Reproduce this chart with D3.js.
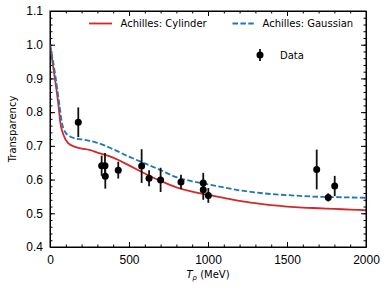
<!DOCTYPE html>
<html>
<head>
<meta charset="utf-8">
<script src="https://cdn.jsdelivr.net/npm/d3@7"></script>
<style>
  body { margin: 0; background: #fff; }
  svg { font-family: "DejaVu Sans", sans-serif; }
  .axis path, .axis line { stroke: #000; }
  .axis text { font-size: 12px; fill: #000; }
</style>
</head>
<body>
<div id="chart"></div>
<script>
// Data
const dataT = [179, 327, 348, 350, 432, 580, 627, 700, 829, 970, 970, 1002, 1688, 1761, 1802];
const dataY = [0.770, 0.641, 0.641, 0.610, 0.628, 0.640, 0.604, 0.599, 0.593, 0.590, 0.570, 0.553, 0.630, 0.547, 0.581];
const dataErr = [0.044, 0.030, 0.038, 0.037, 0.025, 0.050, 0.024, 0.036, 0.021, 0.030, 0.030, 0.022, 0.059, 0.012, 0.030];

const cylT = [0, 20, 40, 55, 65, 85, 115, 160, 200, 250, 300, 400, 500, 600, 700, 800, 900, 1000, 1100, 1200, 1300, 1400, 1500, 1600, 1700, 1800, 1900, 2000];
const cylY = [1.0, 0.935, 0.87, 0.815, 0.77, 0.733, 0.708, 0.697, 0.692, 0.688, 0.680, 0.665, 0.642, 0.618, 0.596, 0.577, 0.564, 0.555, 0.546, 0.537, 0.530, 0.524, 0.520, 0.517, 0.515, 0.513, 0.511, 0.509];

const gauT = [0, 30, 60, 75, 95, 130, 160, 200, 250, 300, 400, 500, 600, 700, 800, 900, 1000, 1100, 1200, 1300, 1400, 1500, 1600, 1700, 1800, 1900, 2000];
const gauY = [1.0, 0.92, 0.82, 0.77, 0.742, 0.727, 0.722, 0.719, 0.715, 0.709, 0.690, 0.668, 0.648, 0.628, 0.607, 0.595, 0.586, 0.577, 0.568, 0.562, 0.557, 0.554, 0.551, 0.549, 0.548, 0.547, 0.546];

const xTicks = [0, 500, 1000, 1500, 2000];
const yTicks = [0.4, 0.5, 0.6, 0.7, 0.8, 0.9, 1.0, 1.1];

const W = 390, H = 291;
const MARGIN = { top: 11, right: 24, bottom: 44, left: 50 };
const RED = '#d62728', BLUE = '#1f77b4';
const LW = 1.8;

const svg = d3.select('#chart').append('svg')
  .attr('width', W).attr('height', H);

const x = d3.scaleLinear().domain([0, 2000]).range([MARGIN.left, W - MARGIN.right]);
const y = d3.scaleLinear().domain([0.4, 1.1]).range([H - MARGIN.bottom, MARGIN.top]);

const xMinor = d3.range(0, 2001, 100);
const yMinor = d3.range(0.4, 1.1001, 0.02);

// minor ticks (inward, all four sides)
function minor(axisGen, ty, tx) {
  svg.append('g').attr('class', 'axis')
    .attr('transform', `translate(${tx},${ty})`)
    .call(axisGen)
    .call(g => g.select('.domain').remove())
    .call(g => g.selectAll('text').remove());
}
minor(d3.axisBottom(x).tickValues(xMinor).tickSizeInner(-2.5).tickSizeOuter(0), y(0.4), 0);
minor(d3.axisTop(x).tickValues(xMinor).tickSizeInner(-2.5).tickSizeOuter(0), y(1.1), 0);
minor(d3.axisLeft(y).tickValues(yMinor).tickSizeInner(-2.5).tickSizeOuter(0), 0, x(0));
minor(d3.axisRight(y).tickValues(yMinor).tickSizeInner(-2.5).tickSizeOuter(0), 0, x(2000));

// major axes
svg.append('g').attr('class', 'axis')
  .attr('transform', `translate(0,${y(0.4)})`)
  .call(d3.axisBottom(x).tickValues(xTicks).tickSizeInner(-5).tickSizeOuter(0).tickPadding(8).tickFormat(d3.format('d')));
svg.append('g').attr('class', 'axis')
  .attr('transform', `translate(0,${y(1.1)})`)
  .call(d3.axisTop(x).tickValues(xTicks).tickSizeInner(-5).tickSizeOuter(0).tickFormat(''));
svg.append('g').attr('class', 'axis')
  .attr('transform', `translate(${x(0)},0)`)
  .call(d3.axisLeft(y).tickValues(yTicks).tickSizeInner(-5).tickSizeOuter(0).tickPadding(7).tickFormat(d3.format('.1f')));
svg.append('g').attr('class', 'axis')
  .attr('transform', `translate(${x(2000)},0)`)
  .call(d3.axisRight(y).tickValues(yTicks).tickSizeInner(-5).tickSizeOuter(0).tickFormat(''));

// clip
svg.append('clipPath').attr('id', 'clip').append('rect')
  .attr('x', x(0)).attr('y', y(1.1))
  .attr('width', x(2000) - x(0)).attr('height', y(0.4) - y(1.1));

const plot = svg.append('g').attr('clip-path', 'url(#clip)');

const line = d3.line().x(d => x(d[0])).y(d => y(d[1])).curve(d3.curveMonotoneX);

plot.append('path')
  .datum(cylT.map((t, i) => [t, cylY[i]]))
  .attr('fill', 'none').attr('stroke', RED).attr('stroke-width', LW)
  .attr('d', line);

plot.append('path')
  .datum(gauT.map((t, i) => [t, gauY[i]]))
  .attr('fill', 'none').attr('stroke', BLUE).attr('stroke-width', LW)
  .attr('stroke-dasharray', '5.5,2.4')
  .attr('d', line);

const pts = dataT.map((t, i) => ({ t, v: dataY[i], e: dataErr[i] }));

plot.selectAll('.err').data(pts).enter().append('line')
  .attr('x1', d => x(d.t)).attr('x2', d => x(d.t))
  .attr('y1', d => y(d.v - d.e)).attr('y2', d => y(d.v + d.e))
  .attr('stroke', '#111').attr('stroke-width', LW);

plot.selectAll('.pt').data(pts).enter().append('circle')
  .attr('cx', d => x(d.t)).attr('cy', d => y(d.v))
  .attr('r', 3.5).attr('fill', '#000');

// axis frame on top
svg.append('rect')
  .attr('x', x(0)).attr('y', y(1.1))
  .attr('width', x(2000) - x(0)).attr('height', y(0.4) - y(1.1))
  .attr('fill', 'none').attr('stroke', '#000').attr('stroke-width', 1);

// labels
svg.append('text')
  .attr('transform', `translate(16,${(y(0.4) + y(1.1)) / 2}) rotate(-90)`)
  .attr('text-anchor', 'middle')
  .attr('font-size', '10px')
  .text('Transparency');

const xl = svg.append('text')
  .attr('x', (x(0) + x(2000)) / 2).attr('y', 278)
  .attr('text-anchor', 'middle')
  .attr('font-size', '10px');
xl.append('tspan').attr('font-style', 'italic').text('T');
xl.append('tspan').attr('font-style', 'italic').attr('font-size', '7px').attr('dy', 2).text('p');
xl.append('tspan').attr('dy', -2).text(' (MeV)');

// legend
const leg = svg.append('g').attr('font-size', '10px');
leg.append('line').attr('x1', 89).attr('x2', 112).attr('y1', 23.5).attr('y2', 23.5)
  .attr('stroke', RED).attr('stroke-width', LW);
leg.append('text').attr('x', 120.5).attr('y', 27.2).text('Achilles: Cylinder');
leg.append('line').attr('x1', 232.5).attr('x2', 254).attr('y1', 23.5).attr('y2', 23.5)
  .attr('stroke', BLUE).attr('stroke-width', LW).attr('stroke-dasharray', '5.5,2.4');
leg.append('text').attr('x', 262.5).attr('y', 27.2).text('Achilles: Gaussian');
leg.append('line').attr('x1', 260).attr('x2', 260).attr('y1', 49).attr('y2', 61)
  .attr('stroke', '#111').attr('stroke-width', LW);
leg.append('circle').attr('cx', 260).attr('cy', 55).attr('r', 3.5).attr('fill', '#000');
leg.append('text').attr('x', 280).attr('y', 58.8).text('Data');
</script>
</body>
</html>
